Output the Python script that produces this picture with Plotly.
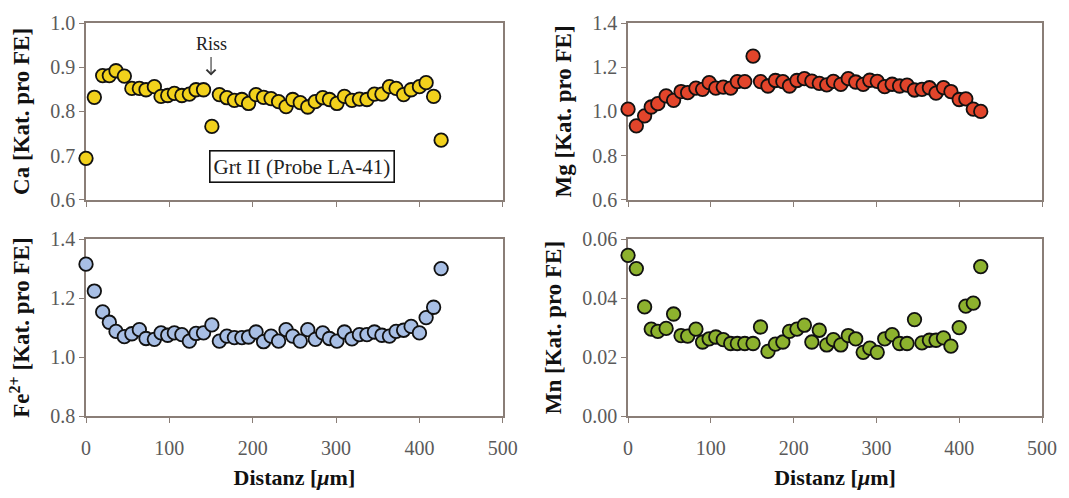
import plotly.graph_objects as go
from plotly.subplots import make_subplots

distance = [0, 10, 20, 28, 36, 46, 55, 64, 72, 82, 90, 98, 106, 115, 124, 132, 141, 151, 160, 169,
            178, 187, 195, 204, 213, 222, 231, 240, 248, 257, 266, 275, 284, 292, 301, 310, 319, 328,
            337, 346, 355, 364, 372, 381, 390, 400, 408, 417, 426]

ca = [0.694, 0.832, 0.881, 0.881, 0.892, 0.880, 0.852, 0.852, 0.849, 0.856, 0.834, 0.836, 0.841,
      0.836, 0.839, 0.849, 0.849, 0.766, 0.838, 0.831, 0.825, 0.827, 0.818, 0.838, 0.832, 0.829,
      0.822, 0.811, 0.827, 0.820, 0.810, 0.822, 0.831, 0.827, 0.818, 0.834, 0.825, 0.828, 0.827,
      0.839, 0.839, 0.856, 0.852, 0.838, 0.849, 0.856, 0.865, 0.834, 0.735]

mg = [1.01, 0.935, 0.98, 1.02, 1.035, 1.07, 1.05, 1.09, 1.085, 1.105, 1.10, 1.13, 1.105, 1.11,
      1.105, 1.135, 1.135, 1.25, 1.135, 1.115, 1.14, 1.135, 1.115, 1.14, 1.148, 1.137, 1.127,
      1.12, 1.136, 1.122, 1.148, 1.133, 1.122, 1.141, 1.136, 1.112, 1.123, 1.115, 1.119, 1.097,
      1.100, 1.107, 1.083, 1.108, 1.090, 1.054, 1.057, 1.01, 1.0]

fe = [1.315, 1.224, 1.153, 1.118, 1.087, 1.069, 1.079, 1.093, 1.063, 1.060, 1.082, 1.074, 1.082,
      1.076, 1.054, 1.080, 1.082, 1.109, 1.054, 1.071, 1.066, 1.066, 1.068, 1.085, 1.052, 1.071,
      1.054, 1.093, 1.071, 1.054, 1.093, 1.060, 1.082, 1.063, 1.054, 1.085, 1.062, 1.076, 1.076,
      1.085, 1.074, 1.071, 1.087, 1.091, 1.104, 1.082, 1.134, 1.169, 1.300]

mn = [0.0545, 0.050, 0.037, 0.0295, 0.0287, 0.0297, 0.0346, 0.0273, 0.0271, 0.0295, 0.0251,
      0.0262, 0.0268, 0.0259, 0.0246, 0.0246, 0.0246, 0.0246, 0.0302, 0.0219, 0.0244, 0.0251,
      0.0287, 0.0295, 0.0308, 0.0251, 0.0291, 0.0241, 0.0259, 0.0241, 0.0273, 0.0262, 0.0216,
      0.0230, 0.0216, 0.0262, 0.0276, 0.0246, 0.0246, 0.0327, 0.0248, 0.0257, 0.0257, 0.0265,
      0.0237, 0.0300, 0.0373, 0.0383, 0.0507]

x_ticks = [0, 100, 200, 300, 400, 500]

SERIF = "Liberation Serif, Times New Roman, serif"
SPINE = "#8a7e77"

panels = [
    # (row, col, values, colour, title, range, dtick, fmt)
    (1, 1, ca, "#f2d11c", "Ca [Kat. pro FE]", [0.6, 1.0], 0.1, ".1f"),
    (1, 2, mg, "#e2452b", "Mg [Kat. pro FE]", [0.6, 1.4], 0.2, ".1f"),
    (2, 1, fe, "#a8bfe5", "Fe<sup>2+</sup> [Kat. pro FE]", [0.8, 1.4], 0.2, ".1f"),
    (2, 2, mn, "#8db22e", "Mn [Kat. pro FE]", [0.0, 0.06], 0.02, ".2f"),
]

fig = make_subplots(rows=2, cols=2, horizontal_spacing=0.131, vertical_spacing=0.1)

for row, col, vals, colour, title, yr, dt, fmt in panels:
    fig.add_trace(go.Scatter(
        x=distance, y=vals, mode="markers", cliponaxis=False, showlegend=False,
        marker=dict(size=13.5, color=colour, line=dict(color="#111111", width=1.8)),
    ), row=row, col=col)
    fig.update_yaxes(
        range=yr, dtick=dt, tick0=0, tickformat=fmt,
        showline=True, linecolor=SPINE, linewidth=1.5, mirror=True,
        ticks="outside", ticklen=5, tickcolor=SPINE, tickwidth=1,
        showgrid=False, zeroline=False, layer="below traces",
        tickfont=dict(family=SERIF, size=20, color="#5a5a5a"),
        title=dict(text="<b>" + title + "</b>", font=dict(family=SERIF, size=23, color="#111111"),
                   standoff=14),
        row=row, col=col)
    fig.update_xaxes(
        range=[0, 500], tickvals=x_ticks,
        showline=True, linecolor=SPINE, linewidth=1.5, mirror=True,
        ticks="outside", ticklen=5, tickcolor=SPINE, tickwidth=1,
        showgrid=False, zeroline=False, layer="below traces",
        showticklabels=(row == 2), ticklabelstandoff=8,
        tickfont=dict(family=SERIF, size=20, color="#5a5a5a"),
        row=row, col=col)
    if row == 2:
        fig.update_xaxes(
            title=dict(text="<b>Distanz [<i>μ</i>m]</b>",
                       font=dict(family=SERIF, size=22, color="#111111"), standoff=12),
            row=row, col=col)

# domains matching the reference layout
fig.update_layout(
    xaxis=dict(domain=[0.0, 0.436]), xaxis2=dict(domain=[0.567, 1.0]),
    xaxis3=dict(domain=[0.0, 0.436]), xaxis4=dict(domain=[0.567, 1.0]),
    yaxis=dict(domain=[0.55, 1.0]), yaxis2=dict(domain=[0.55, 1.0]),
    yaxis3=dict(domain=[0.0, 0.45]), yaxis4=dict(domain=[0.0, 0.45]),
)

# "Riss" marker arrow
fig.add_annotation(
    x=150, y=0.881, xref="x", yref="y", text="Riss", showarrow=True,
    ax=0, ay=-32, arrowhead=4, arrowsize=1.6, arrowwidth=1.1, arrowcolor="#333333",
    standoff=0, startstandoff=2,
    font=dict(family=SERIF, size=18, color="#222222"),
)

# sample label box
fig.add_annotation(
    x=259, y=0.675, xref="x", yref="y", text="Grt II (Probe LA-41)", showarrow=False,
    font=dict(family=SERIF, size=21, color="#222222"),
    bordercolor="#111111", borderwidth=1.6, borderpad=3, bgcolor="white",
)

fig.update_layout(
    width=1069, height=498,
    margin=dict(l=86, r=27, t=15, b=72),
    paper_bgcolor="white", plot_bgcolor="white",
    font=dict(family=SERIF),
)

fig.write_html("out.html")
